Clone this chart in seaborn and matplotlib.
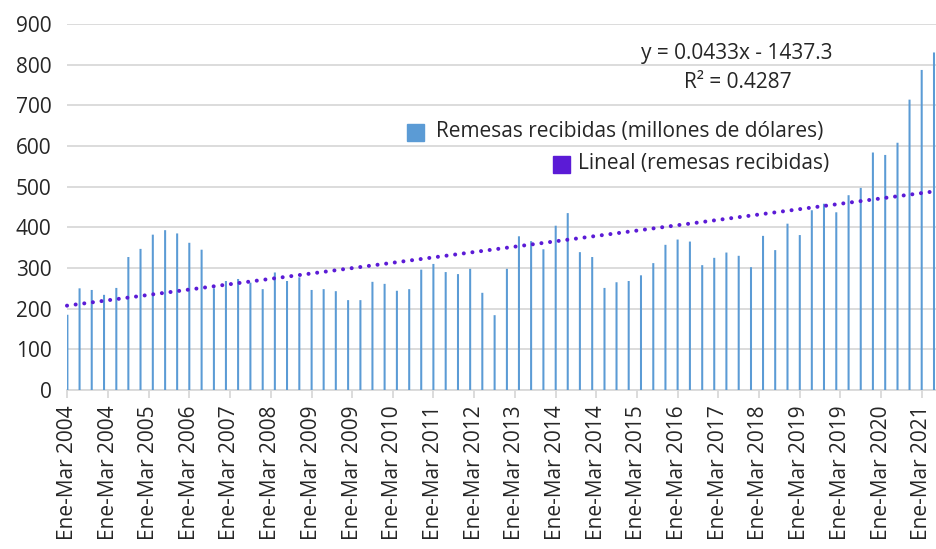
import matplotlib
matplotlib.use("Agg")
import matplotlib.pyplot as plt
import matplotlib.dates as mdates
from matplotlib.patches import Rectangle
import numpy as np
import pandas as pd
import seaborn as sns
import datetime as dt

# ---- data ----
years = list(range(2004, 2022))
quarter_months = [1, 4, 7, 10]
remesas = [
    185, 250, 246, 234,   # 2004
    251, 327, 347, 382,   # 2005
    393, 385, 362, 345,   # 2006
    250, 268, 273, 264,   # 2007
    248, 289, 268, 277,   # 2008
    246, 248, 243, 221,   # 2009
    221, 266, 261, 244,   # 2010
    248, 296, 310, 290,   # 2011
    285, 298, 239, 184,   # 2012
    298, 378, 366, 346,   # 2013
    404, 435, 339, 327,   # 2014
    251, 265, 268, 282,   # 2015
    312, 357, 370, 365,   # 2016
    307, 325, 338, 330,   # 2017
    302, 379, 344, 409,   # 2018
    381, 442, 458, 437,   # 2019
    479, 497, 584, 578,   # 2020
    608, 714, 787, 830,   # 2021
]
tick_dates = [dt.date(2004, 1, 1), dt.date(2004, 11, 1), dt.date(2005, 9, 1), dt.date(2006, 7, 1),
              dt.date(2007, 5, 1), dt.date(2008, 3, 1), dt.date(2009, 1, 1), dt.date(2009, 11, 1),
              dt.date(2010, 9, 1), dt.date(2011, 7, 1), dt.date(2012, 5, 1), dt.date(2013, 3, 1),
              dt.date(2014, 1, 1), dt.date(2014, 11, 1), dt.date(2015, 9, 1), dt.date(2016, 7, 1),
              dt.date(2017, 5, 1), dt.date(2018, 3, 1), dt.date(2019, 1, 1), dt.date(2019, 11, 1),
              dt.date(2020, 9, 1), dt.date(2021, 7, 1)]
tick_labels = ["Ene-Mar 2004", "Ene-Mar 2004", "Ene-Mar 2005", "Ene-Mar 2006", "Ene-Mar 2007",
               "Ene-Mar 2008", "Ene-Mar 2009", "Ene-Mar 2009", "Ene-Mar 2010", "Ene-Mar 2011",
               "Ene-Mar 2012", "Ene-Mar 2013", "Ene-Mar 2014", "Ene-Mar 2014", "Ene-Mar 2015",
               "Ene-Mar 2016", "Ene-Mar 2017", "Ene-Mar 2018", "Ene-Mar 2019", "Ene-Mar 2019",
               "Ene-Mar 2020", "Ene-Mar 2021"]
trend_slope = 0.0433
trend_intercept = -1437.3
eq_text = "y = 0.0433x - 1437.3"
r2_text = "R² = 0.4287"
bar_label = "Remesas recibidas (millones de dólares)"
trend_label = "Lineal (remesas recibidas)"

dates = [dt.date(y, m, 1) for y in years for m in quarter_months]
df = pd.DataFrame({"fecha": mdates.date2num(dates), "remesas": remesas})

# ---- style ----
sns.set_theme(style="white")
plt.rcParams["font.family"] = ["Open Sans", "DejaVu Sans"]
TXT = "#262626"
GRID = "#D9D9D9"
BLUE = "#5B9BD5"
PURPLE = "#5B1BD6"
FS = 15

fig = plt.figure(figsize=(9.36, 5.49), dpi=100)
W, H = 936, 549
ax = fig.add_axes([67 / W, 1 - 390 / H, (936 - 67) / W, (390 - 24) / H])

sns.barplot(data=df, x="fecha", y="remesas", native_scale=True, width=0.17,
            color=BLUE, saturation=1, linewidth=0, ax=ax, zorder=2)
for p in ax.patches:
    p.set_snap(False)

x0 = mdates.date2num(dt.date(2003, 12, 29))
x1 = mdates.date2num(dt.date(2021, 10, 16))
ax.set_xlim(x0, x1)
ax.set_ylim(0, 900)

# trend line (Excel serial dates)
xs = np.array([x0, x1])
ys = trend_slope * (xs + 25569) + trend_intercept
ax.plot(xs, ys, color=PURPLE, lw=2.9, linestyle=(0, (0.01, 2.15)),
        dash_capstyle="round", zorder=3, clip_on=False)

# axes styling
ax.set_yticks(range(0, 1000, 100))
ax.yaxis.grid(True, color=GRID, lw=1.3)
ax.xaxis.grid(False)
ax.set_axisbelow(True)
for s in ["top", "right", "left"]:
    ax.spines[s].set_visible(False)
ax.spines["bottom"].set_color(GRID)
ax.spines["bottom"].set_linewidth(1.3)
ax.spines["bottom"].set_zorder(1)

ax.set_xticks(mdates.date2num(tick_dates))
ax.set_xticklabels(tick_labels, rotation=90)
ax.tick_params(axis="x", which="major", bottom=True, direction="out", length=6,
               width=1.3, color=GRID, labelsize=FS, labelcolor=TXT, pad=5)
ax.tick_params(axis="y", left=False, length=0, labelsize=FS, labelcolor=TXT, pad=11)
ax.set_xlabel("")
ax.set_ylabel("")

# legend (manual, right aligned rows as in reference)
fig.patches.append(Rectangle((407 / W, 1 - 141 / H), 17 / W, 17 / H,
                             transform=fig.transFigure, color=BLUE, zorder=5))
fig.text(436 / W, 1 - 132 / H, bar_label, fontsize=FS, color=TXT, va="center", ha="left")
fig.patches.append(Rectangle((553 / W, 1 - 173 / H), 17 / W, 17 / H,
                             transform=fig.transFigure, color=PURPLE, zorder=5))
fig.text(578 / W, 1 - 163 / H, trend_label, fontsize=FS, color=TXT, va="center", ha="left")

# equation
fig.text(737 / W, 1 - 53 / H, eq_text, fontsize=FS, color=TXT, va="center", ha="center")
fig.text(738 / W, 1 - 82 / H, r2_text, fontsize=FS, color=TXT, va="center", ha="center")

fig.savefig("out.png", dpi=100)
